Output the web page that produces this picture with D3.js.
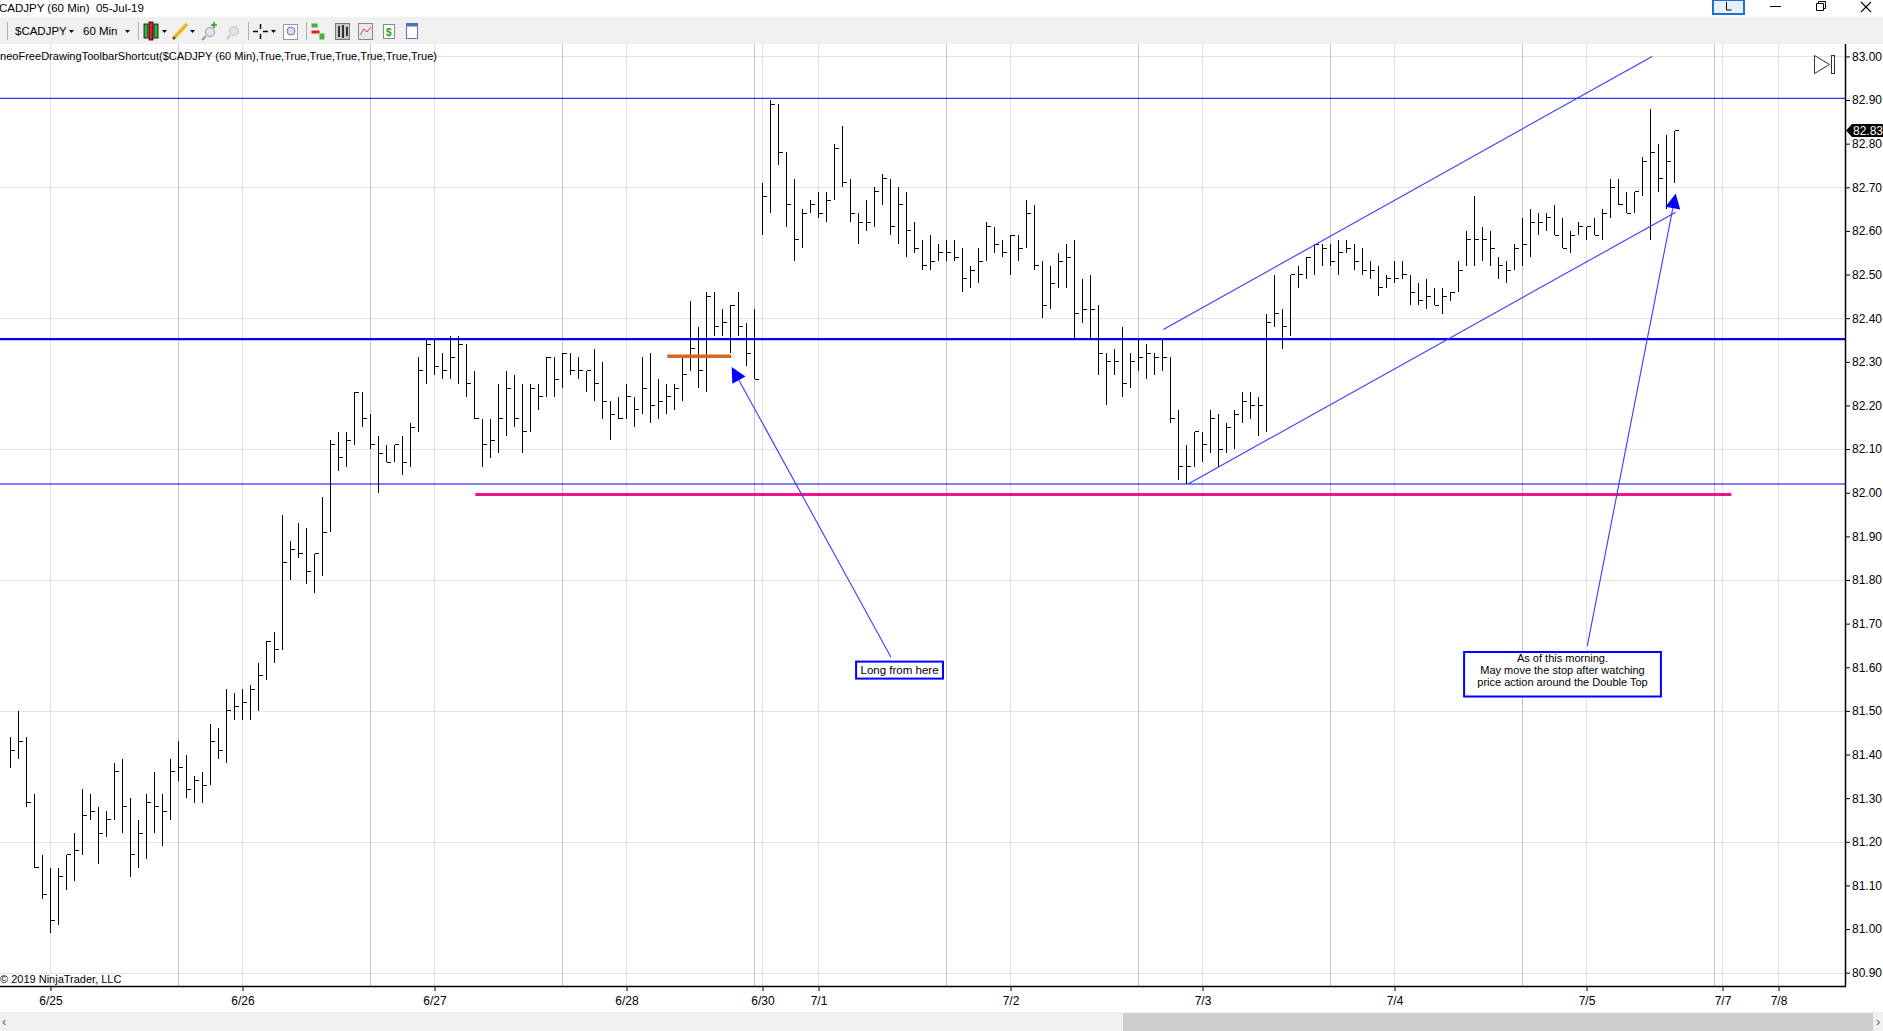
<!DOCTYPE html>
<html>
<head>
<meta charset="utf-8">
<script src="https://cdnjs.cloudflare.com/ajax/libs/d3/7.8.5/d3.min.js"></script>
<style>
  body { margin: 0; background: #fff; overflow: hidden; }
  svg { display: block; }
  text { font-family: "Liberation Sans Narrow", "Arial Narrow", "Liberation Sans", sans-serif; white-space: pre; }
</style>
</head>
<body>
<svg id="chart" width="1883" height="1031"></svg>
<script>
// hourly CADJPY bars (high / low / close), first bar is 5 hours before 6/25 00:00
const firstBar = -5;
const highs = [
  81.44, 81.50, 81.44, 81.31, 81.17, 81.14, 81.14, 81.17, 81.22, 81.32,
  81.31, 81.28, 81.27, 81.38, 81.39, 81.30, 81.25, 81.31, 81.36, 81.31,
  81.39, 81.43, 81.40, 81.35, 81.36, 81.47, 81.46, 81.55, 81.54, 81.55,
  81.56, 81.61, 81.66, 81.68, 81.95, 81.89, 81.93, 81.92, 81.86, 81.99,
  82.12, 82.14, 82.14, 82.23, 82.23, 82.18, 82.13, 82.11, 82.11, 82.13,
  82.16, 82.31, 82.35, 82.35, 82.32, 82.36, 82.36, 82.34, 82.28, 82.17,
  82.17, 82.25, 82.28, 82.27, 82.25, 82.25, 82.25, 82.31, 82.31, 82.32,
  82.32, 82.31, 82.28, 82.33, 82.30, 82.21, 82.22, 82.25, 82.22, 82.31,
  82.32, 82.26, 82.25, 82.25, 82.31, 82.44, 82.38, 82.46, 82.46, 82.42,
  82.43, 82.46, 82.39, 82.42, 82.71, 82.90, 82.89, 82.78, 82.72, 82.65,
  82.67, 82.69, 82.69, 82.80, 82.84, 82.72, 82.64, 82.67, 82.70, 82.73,
  82.72, 82.70, 82.69, 82.62, 82.58, 82.59, 82.57, 82.58, 82.58, 82.56,
  82.52, 82.56, 82.62, 82.61, 82.58, 82.59, 82.59, 82.67, 82.66, 82.53,
  82.52, 82.55, 82.57, 82.58, 82.49, 82.50, 82.43, 82.32, 82.33, 82.38,
  82.32, 82.35, 82.34, 82.32, 82.35, 82.31, 82.19, 82.11, 82.14, 82.14,
  82.19, 82.18, 82.16, 82.19, 82.23, 82.23, 82.22, 82.41, 82.50, 82.42,
  82.50, 82.52, 82.54, 82.57, 82.57, 82.57, 82.58, 82.58, 82.57, 82.56,
  82.53, 82.52, 82.50, 82.53, 82.53, 82.50, 82.48, 82.49, 82.47, 82.47,
  82.46, 82.53, 82.60, 82.68, 82.61, 82.60, 82.54, 82.53, 82.57, 82.63,
  82.65, 82.64, 82.64, 82.66, 82.63, 82.60, 82.62, 82.61, 82.63, 82.65,
  82.72, 82.72, 82.69, 82.69, 82.77, 82.88, 82.80, 82.82, 82.83
];
const lows = [
  81.37, 81.39, 81.28, 81.14, 81.07, 80.99, 81.01, 81.09, 81.11, 81.17,
  81.25, 81.15, 81.21, 81.25, 81.22, 81.12, 81.14, 81.16, 81.22, 81.19,
  81.25, 81.34, 81.30, 81.29, 81.29, 81.33, 81.39, 81.38, 81.48, 81.48,
  81.48, 81.50, 81.57, 81.61, 81.64, 81.80, 81.85, 81.79, 81.77, 81.81,
  81.91, 82.05, 82.06, 82.11, 82.15, 82.10, 82.00, 82.07, 82.07, 82.04,
  82.06, 82.14, 82.25, 82.27, 82.26, 82.26, 82.25, 82.22, 82.17, 82.06,
  82.08, 82.09, 82.13, 82.15, 82.09, 82.14, 82.19, 82.22, 82.22, 82.24,
  82.27, 82.26, 82.23, 82.21, 82.17, 82.12, 82.17, 82.17, 82.15, 82.18,
  82.16, 82.17, 82.18, 82.19, 82.21, 82.28, 82.24, 82.23, 82.36, 82.36,
  82.32, 82.36, 82.29, 82.26, 82.59, 82.64, 82.75, 82.61, 82.53, 82.56,
  82.64, 82.63, 82.62, 82.67, 82.70, 82.62, 82.57, 82.60, 82.61, 82.66,
  82.59, 82.57, 82.54, 82.55, 82.51, 82.51, 82.53, 82.53, 82.53, 82.46,
  82.47, 82.48, 82.53, 82.55, 82.54, 82.50, 82.53, 82.56, 82.51, 82.40,
  82.42, 82.47, 82.47, 82.35, 82.39, 82.35, 82.27, 82.20, 82.27, 82.22,
  82.24, 82.28, 82.26, 82.27, 82.28, 82.16, 82.03, 82.02, 82.06, 82.07,
  82.09, 82.06, 82.09, 82.10, 82.16, 82.17, 82.13, 82.14, 82.38, 82.33,
  82.36, 82.47, 82.49, 82.50, 82.52, 82.52, 82.50, 82.55, 82.51, 82.50,
  82.49, 82.45, 82.47, 82.48, 82.49, 82.43, 82.43, 82.42, 82.43, 82.41,
  82.44, 82.46, 82.52, 82.52, 82.53, 82.52, 82.49, 82.48, 82.51, 82.52,
  82.54, 82.59, 82.60, 82.59, 82.56, 82.55, 82.59, 82.58, 82.59, 82.58,
  82.63, 82.66, 82.64, 82.64, 82.68, 82.58, 82.69, 82.65, 82.71
];
const closes = [
  81.41, 81.43, 81.29, 81.14, 81.08, 81.02, 81.12, 81.17, 81.18, 81.26,
  81.27, 81.22, 81.25, 81.36, 81.28, 81.17, 81.22, 81.29, 81.28, 81.27,
  81.36, 81.37, 81.32, 81.34, 81.33, 81.43, 81.41, 81.50, 81.51, 81.52,
  81.55, 81.58, 81.66, 81.64, 81.84, 81.87, 81.86, 81.82, 81.86, 81.91,
  82.11, 82.08, 82.12, 82.23, 82.17, 82.11, 82.09, 82.07, 82.11, 82.07,
  82.15, 82.28, 82.34, 82.29, 82.28, 82.31, 82.34, 82.25, 82.17, 82.11,
  82.12, 82.17, 82.24, 82.17, 82.14, 82.24, 82.22, 82.31, 82.26, 82.32,
  82.28, 82.28, 82.28, 82.25, 82.21, 82.18, 82.17, 82.22, 82.19, 82.24,
  82.20, 82.21, 82.22, 82.24, 82.27, 82.33, 82.28, 82.45, 82.38, 82.39,
  82.43, 82.38, 82.32, 82.26, 82.68, 82.89, 82.78, 82.66, 82.58, 82.64,
  82.66, 82.64, 82.67, 82.79, 82.71, 82.64, 82.62, 82.62, 82.69, 82.72,
  82.61, 82.66, 82.60, 82.56, 82.52, 82.53, 82.55, 82.55, 82.54, 82.49,
  82.51, 82.53, 82.61, 82.57, 82.55, 82.59, 82.56, 82.64, 82.52, 82.43,
  82.48, 82.53, 82.54, 82.41, 82.42, 82.42, 82.32, 82.30, 82.30, 82.25,
  82.30, 82.31, 82.32, 82.31, 82.31, 82.17, 82.06, 82.06, 82.14, 82.11,
  82.17, 82.10, 82.15, 82.18, 82.21, 82.20, 82.20, 82.39, 82.41, 82.38,
  82.50, 82.50, 82.54, 82.57, 82.56, 82.53, 82.55, 82.56, 82.53, 82.51,
  82.51, 82.47, 82.49, 82.49, 82.50, 82.46, 82.44, 82.45, 82.43, 82.45,
  82.46, 82.51, 82.58, 82.58, 82.58, 82.56, 82.52, 82.51, 82.56, 82.57,
  82.62, 82.62, 82.63, 82.59, 82.56, 82.59, 82.61, 82.61, 82.59, 82.64,
  82.70, 82.66, 82.64, 82.69, 82.76, 82.78, 82.72, 82.76, 82.83
];

const priceTicks = [83.00, 82.90, 82.80, 82.70, 82.60, 82.50, 82.40, 82.30, 82.20, 82.10, 82.00,
  81.90, 81.80, 81.70, 81.60, 81.50, 81.40, 81.30, 81.20, 81.10, 81.00, 80.90];
const gridPrices = [83.00, 82.70, 82.40, 82.10, 81.80, 81.50, 81.20, 80.90];
const dateLabels = ["6/25", "6/26", "6/27", "6/28", "6/30", "7/1", "7/2", "7/3", "7/4", "7/5", "7/7", "7/8"];
const dateBars = [0, 24, 48, 72, 89, 96, 120, 144, 168, 192, 209, 216];
const sessionBars = [16, 40, 64, 88, 112, 136, 160, 184, 208];

// drawings: horizontal levels, stop line, entry mark, channel, arrows, notes (bar index / price)
const levelPrices = [82.904, 82.352, 82.02];
const levelWidths = [1, 2.2, 1];
const stopLine = { x1: 53.1, x2: 210.1, price: 81.996 };
const entryLine = { x1: 77.1, x2: 85.1, price: 82.313 };
const channelLines = [
  { x1: 139.1, p1: 82.374, x2: 200.2, p2: 83.00 },
  { x1: 142.2, p1: 82.020, x2: 203.15, p2: 82.643 }
];
const arrowLines = [
  { x1: 105.06, p1: 81.623, x2: 85.15, p2: 82.288 },
  { x1: 192.1, p1: 81.649, x2: 203.15, p2: 82.686 }
];
const notes = [
  { x1: 100.7, x2: 111.56, p1: 81.613, p2: 81.574, lines: ["Long from here"] },
  { x1: 176.7, x2: 201.3, p1: 81.635, p2: 81.533,
    lines: ["As of this morning.", "May move the stop after watching", "price action around the Double Top"] }
];
const lastPrice = 82.83;

const plot = { left: 0, right: 1845, top: 44, bottom: 986 };
const xScale = d3.scaleLinear().domain([0, 216]).range([50.5, 1778.5]);
const yScale = d3.scaleLinear().domain([80.90, 83.00]).range([972.7, 56.4]);

const bars = highs.map(function(h, k) {
  return { i: firstBar + k, h: h, l: lows[k], c: closes[k] };
});

let svg = d3.select("#chart");
svg.append("rect").attr("width", 1883).attr("height", 1031).attr("fill", "#fff");

svg.append("defs").append("clipPath").attr("id", "plotClip")
  .append("rect")
  .attr("x", plot.left).attr("y", plot.top)
  .attr("width", plot.right - plot.left).attr("height", plot.bottom - plot.top);

let plotG = svg.append("g").attr("clip-path", "url(#plotClip)");

// grid
plotG.selectAll(".hgrid").data(gridPrices).enter().append("line")
  .attr("x1", plot.left).attr("x2", plot.right)
  .attr("y1", d => Math.round(yScale(d)) + 0.5).attr("y2", d => Math.round(yScale(d)) + 0.5)
  .attr("stroke", "#e3e3e3");
plotG.selectAll(".vgrid").data(dateBars).enter().append("line")
  .attr("x1", d => xScale(d)).attr("x2", d => xScale(d))
  .attr("y1", plot.top).attr("y2", plot.bottom)
  .attr("stroke", "#e3e3e3");
plotG.selectAll(".sgrid").data(sessionBars).enter().append("line")
  .attr("x1", d => xScale(d)).attr("x2", d => xScale(d))
  .attr("y1", plot.top).attr("y2", plot.bottom)
  .attr("stroke", "#c4c4c4");

// horizontal levels
plotG.selectAll(".level").data(levelPrices).enter().append("line")
  .attr("x1", plot.left).attr("x2", plot.right)
  .attr("y1", d => yScale(d)).attr("y2", d => yScale(d))
  .attr("stroke", "#0000ff")
  .attr("stroke-width", (d, k) => levelWidths[k]);

plotG.append("line")
  .attr("x1", xScale(stopLine.x1)).attr("x2", xScale(stopLine.x2))
  .attr("y1", yScale(stopLine.price)).attr("y2", yScale(stopLine.price))
  .attr("stroke", "#f0148c").attr("stroke-width", 3);

// HLC bars
let barG = plotG.append("g").attr("shape-rendering", "crispEdges");
barG.selectAll(".hl").data(bars).enter().append("line")
  .attr("x1", d => xScale(d.i)).attr("x2", d => xScale(d.i))
  .attr("y1", d => yScale(d.h)).attr("y2", d => yScale(d.l))
  .attr("stroke", "#000").attr("stroke-width", 1);
barG.selectAll(".cl").data(bars).enter().append("line")
  .attr("x1", d => xScale(d.i)).attr("x2", d => xScale(d.i) + 4)
  .attr("y1", d => yScale(d.c)).attr("y2", d => yScale(d.c))
  .attr("stroke", "#000").attr("stroke-width", 1);

plotG.append("line")
  .attr("x1", xScale(entryLine.x1)).attr("x2", xScale(entryLine.x2))
  .attr("y1", yScale(entryLine.price)).attr("y2", yScale(entryLine.price))
  .attr("stroke", "#d2691e").attr("stroke-width", 3.5);

plotG.selectAll(".channel").data(channelLines).enter().append("line")
  .attr("x1", d => xScale(d.x1)).attr("y1", d => yScale(d.p1))
  .attr("x2", d => xScale(d.x2)).attr("y2", d => yScale(d.p2))
  .attr("stroke", "#3a3aff").attr("stroke-width", 1.1);

// arrows with solid heads
arrowLines.forEach(function(a) {
  let tx = xScale(a.x1), ty = yScale(a.p1);
  let hx = xScale(a.x2), hy = yScale(a.p2);
  let len = Math.hypot(hx - tx, hy - ty);
  let ux = (hx - tx) / len, uy = (hy - ty) / len;
  let bx = hx - 15 * ux, by = hy - 15 * uy;
  plotG.append("line")
    .attr("x1", tx).attr("y1", ty).attr("x2", bx).attr("y2", by)
    .attr("stroke", "#3a3aff").attr("stroke-width", 1.1);
  plotG.append("path")
    .attr("d", "M" + hx + "," + hy +
      "L" + (bx - 7.5 * uy) + "," + (by + 7.5 * ux) +
      "L" + (bx + 7.5 * uy) + "," + (by - 7.5 * ux) + "Z")
    .attr("fill", "#0000ff");
});

notes.forEach(function(n) {
  let left = xScale(n.x1), right = xScale(n.x2);
  let top = yScale(n.p1), bottom = yScale(n.p2);
  plotG.append("rect")
    .attr("x", left).attr("y", top)
    .attr("width", right - left).attr("height", bottom - top)
    .attr("fill", "#fff").attr("stroke", "#0000ff").attr("stroke-width", 2);
  plotG.selectAll(null).data(n.lines).enter().append("text")
    .attr("x", (left + right) / 2)
    .attr("y", (d, k) => top + (n.lines.length > 1 ? 10.5 : 12) + k * 12)
    .attr("text-anchor", "middle")
    .attr("font-size", n.lines.length > 1 ? 11 : 11.5)
    .attr("fill", "#000")
    .text(d => d);
});

// go-to-end icon
let endIcon = svg.append("g").attr("fill", "none").attr("stroke", "#333").attr("stroke-width", 1);
endIcon.append("path").attr("d", "M1814.5,55.5L1829.5,64.5L1814.5,73.5Z");
endIcon.append("rect").attr("x", 1831.5).attr("y", 55.5).attr("width", 3).attr("height", 18);

svg.append("text")
  .attr("x", 0).attr("y", 60)
  .attr("font-size", 11).attr("fill", "#000")
  .attr("textLength", 437).attr("lengthAdjust", "spacingAndGlyphs")
  .text("neoFreeDrawingToolbarShortcut($CADJPY (60 Min),True,True,True,True,True,True,True)");

svg.append("text")
  .attr("x", 0).attr("y", 983)
  .attr("font-size", 11).attr("fill", "#000")
  .text("\u00a9 2019 NinjaTrader, LLC");

// price axis
let yAxis = d3.axisRight(yScale)
  .tickValues(priceTicks)
  .tickFormat(d3.format(".2f"))
  .tickSize(5)
  .tickSizeOuter(0);
let yAxisG = svg.append("g").attr("transform", "translate(" + plot.right + ",0)").call(yAxis);
yAxisG.select(".domain").remove();
yAxisG.selectAll("text")
  .attr("x", 7)
  .attr("font-size", 12)
  .attr("font-family", "'Liberation Sans Narrow','Arial Narrow',sans-serif")
  .attr("fill", "#000");
yAxisG.selectAll("line").attr("stroke", "#000");

svg.append("line")
  .attr("x1", plot.right + 0.5).attr("x2", plot.right + 0.5)
  .attr("y1", plot.top).attr("y2", plot.bottom)
  .attr("stroke", "#000").attr("stroke-width", 1.5);

// last price tag
let yLast = yScale(lastPrice);
svg.append("path")
  .attr("d", "M" + (plot.right + 1) + "," + yLast +
    "L" + (plot.right + 7) + "," + (yLast - 6.5) +
    "L1883," + (yLast - 6.5) + "L1883," + (yLast + 6.5) +
    "L" + (plot.right + 7) + "," + (yLast + 6.5) + "Z")
  .attr("fill", "#000");
svg.append("text")
  .attr("x", plot.right + 8).attr("y", yLast + 4.5)
  .attr("font-size", 12).attr("fill", "#fff")
  .text(d3.format(".2f")(lastPrice));

// date axis
let xAxis = d3.axisBottom(xScale)
  .tickValues(dateBars)
  .tickFormat((d, k) => dateLabels[k])
  .tickSize(5)
  .tickSizeOuter(0);
let xAxisG = svg.append("g").attr("transform", "translate(0," + plot.bottom + ")").call(xAxis);
xAxisG.select(".domain").remove();
xAxisG.selectAll("text")
  .attr("y", 10)
  .attr("font-size", 12)
  .attr("font-family", "'Liberation Sans Narrow','Arial Narrow',sans-serif")
  .attr("fill", "#000");
xAxisG.selectAll("line").attr("stroke", "#000");

svg.append("line")
  .attr("x1", plot.left).attr("x2", plot.right + 1)
  .attr("y1", plot.bottom + 0.5).attr("y2", plot.bottom + 0.5)
  .attr("stroke", "#000").attr("stroke-width", 1.5);

// horizontal scrollbar
svg.append("rect").attr("x", 0).attr("y", 1012).attr("width", 1883).attr("height", 19).attr("fill", "#f0f0f0");
svg.append("rect").attr("x", 1123).attr("y", 1013).attr("width", 750).attr("height", 18).attr("fill", "#cdcdcd");
svg.append("text").attr("x", 2).attr("y", 1026).attr("font-size", 13).attr("fill", "#606060").text("\u2039");
svg.append("text").attr("x", 1876).attr("y", 1026).attr("font-size", 13).attr("fill", "#606060").text("\u203a");

// window title and toolbar
svg.append("rect").attr("x", 0).attr("y", 17).attr("width", 1883).attr("height", 27).attr("fill", "#f0f0f0");
svg.append("text")
  .attr("x", -1).attr("y", 12)
  .attr("font-family", "'Liberation Sans',Arial,sans-serif")
  .attr("font-size", 11.5).attr("fill", "#000")
  .text("CADJPY (60 Min)  05-Jul-19");

let tb = svg.append("g").attr("font-family", "'Liberation Sans',Arial,sans-serif").attr("font-size", 11.5);
tb.append("text").attr("x", 15).attr("y", 35).text("$CADJPY");
tb.append("text").attr("x", 83).attr("y", 35).text("60 Min");
[69, 125, 162, 190, 271].forEach(function(px) {
  tb.append("path").attr("d", "M" + px + ",30L" + (px + 5) + ",30L" + (px + 2.5) + ",33Z").attr("fill", "#000");
});
[7.5, 138.5, 248.5, 306.5].forEach(function(px) {
  tb.append("line").attr("x1", px).attr("x2", px).attr("y1", 22).attr("y2", 40).attr("stroke", "#b0b0b0");
});
// candle icon
[[144, "#3cb43c", 24, 38], [149, "#e02020", 22, 40], [154, "#3cb43c", 24, 38]].forEach(function(c) {
  tb.append("rect").attr("x", c[0]).attr("y", c[2]).attr("width", 4).attr("height", c[3] - c[2])
    .attr("fill", c[1]).attr("stroke", "#000").attr("stroke-width", 0.8);
});
tb.append("line").attr("x1", 173).attr("y1", 39).attr("x2", 187).attr("y2", 24)
  .attr("stroke", "#e8b820").attr("stroke-width", 3.5);
tb.append("line").attr("x1", 173).attr("y1", 39).attr("x2", 175).attr("y2", 37)
  .attr("stroke", "#444").attr("stroke-width", 2);
tb.append("circle").attr("cx", 210).attr("cy", 32).attr("r", 4.5).attr("fill", "#dde6f0").attr("stroke", "#8a9ab0");
tb.append("line").attr("x1", 206).attr("y1", 36).attr("x2", 202).attr("y2", 40).attr("stroke", "#8a9ab0").attr("stroke-width", 2);
tb.append("path").attr("d", "M214,22v6M211,25h6").attr("stroke", "#20a020").attr("stroke-width", 1.6);
tb.append("circle").attr("cx", 234).attr("cy", 31).attr("r", 4.5).attr("fill", "#e4e4e4").attr("stroke", "#c0c0c0");
tb.append("line").attr("x1", 230).attr("y1", 35).attr("x2", 227).attr("y2", 39).attr("stroke", "#c0c0c0").attr("stroke-width", 2);
tb.append("path").attr("d", "M260.5,24v5M260.5,34v5M253,31.5h5M263,31.5h5").attr("stroke", "#000").attr("stroke-width", 1.4);
tb.append("rect").attr("x", 283.5).attr("y", 24.5).attr("width", 14).attr("height", 15).attr("fill", "#fff").attr("stroke", "#999");
tb.append("circle").attr("cx", 291).attr("cy", 31).attr("r", 4).attr("fill", "#cfe0f2").attr("stroke", "#6a7f9a");
tb.append("rect").attr("x", 311.5).attr("y", 23.5).attr("width", 6).attr("height", 4).attr("fill", "#3cb43c");
tb.append("rect").attr("x", 311.5).attr("y", 30.5).attr("width", 8).attr("height", 3).attr("fill", "#e02020");
tb.append("rect").attr("x", 319.5).attr("y", 33.5).attr("width", 5).attr("height", 6).attr("fill", "#3cb43c");
tb.append("rect").attr("x", 335.5).attr("y", 23.5).attr("width", 14).attr("height", 16).attr("fill", "#c8c8c8").attr("stroke", "#777");
tb.append("path").attr("d", "M339,26v11M343,25v13M347,27v9").attr("stroke", "#000").attr("stroke-width", 1.5);
tb.append("rect").attr("x", 358.5).attr("y", 23.5).attr("width", 14).attr("height", 16).attr("fill", "#e8e8e8").attr("stroke", "#888");
tb.append("path").attr("d", "M360,35L364,29L367,32L371,27").attr("fill", "none").attr("stroke", "#d04040");
tb.append("rect").attr("x", 383.5).attr("y", 24.5).attr("width", 11).attr("height", 14).attr("fill", "#fff").attr("stroke", "#888");
tb.append("text").attr("x", 386).attr("y", 36).attr("font-size", 10).attr("font-weight", "bold").attr("fill", "#20a020").text("$");
tb.append("rect").attr("x", 406.5).attr("y", 23.5).attr("width", 11).attr("height", 15).attr("fill", "#fff").attr("stroke", "#5070c0");
tb.append("rect").attr("x", 406.5).attr("y", 23.5).attr("width", 11).attr("height", 3).attr("fill", "#5070c0");

// window buttons
svg.append("rect").attr("x", 1713).attr("y", 0).attr("width", 31).attr("height", 14)
  .attr("fill", "#e5f1fb").attr("stroke", "#1e6fd0").attr("stroke-width", 2);
svg.append("path").attr("d", "M1726.5,2v8h5").attr("fill", "none").attr("stroke", "#000");
svg.append("line").attr("x1", 1770).attr("x2", 1781).attr("y1", 6.5).attr("y2", 6.5).attr("stroke", "#000");
svg.append("path").attr("d", "M1816.5,3.5h7v7h-7ZM1818.5,3.5v-2h7v7h-2").attr("fill", "none").attr("stroke", "#000");
svg.append("path").attr("d", "M1861,2L1871,12M1871,2L1861,12").attr("stroke", "#000").attr("stroke-width", 1.1);
</script>
</body>
</html>
